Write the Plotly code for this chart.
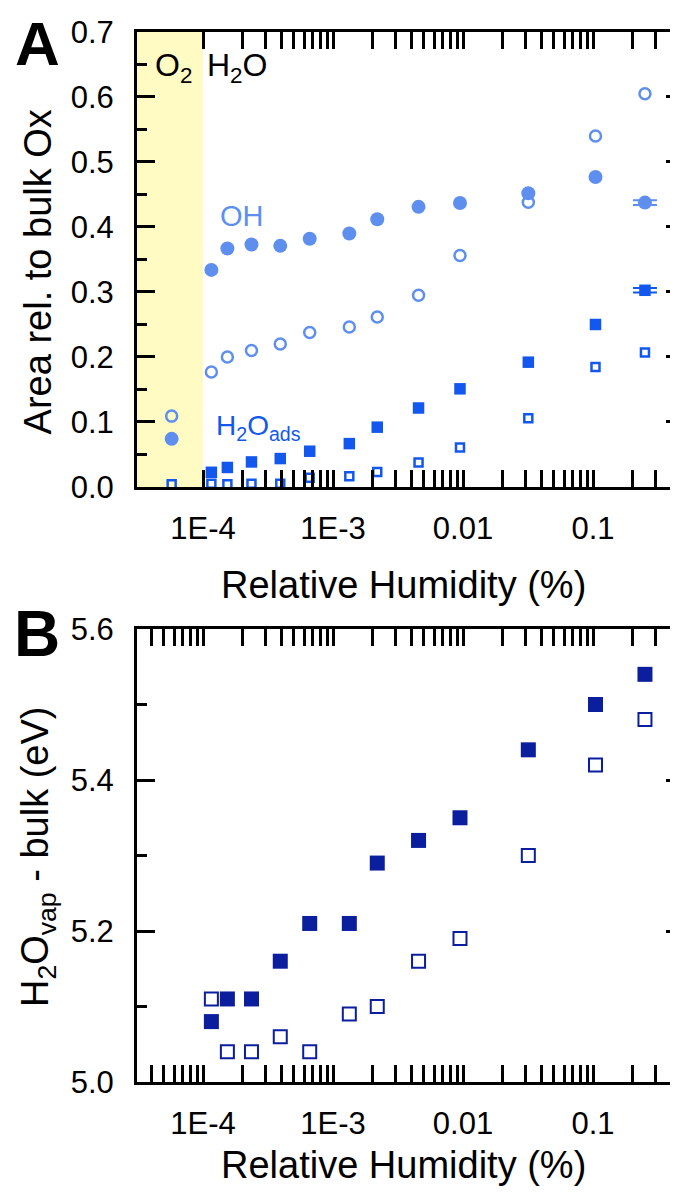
import plotly.graph_objects as go

# ---------------- data ----------------
rh_o2 = [5.74e-5]
rh = [1.16e-4, 1.54e-4, 2.36e-4, 3.93e-4, 6.62e-4, 1.335e-3, 2.19e-3,
      4.55e-3, 9.48e-3, 0.0318, 0.1045, 0.251]

oh_filled_o2 = [0.074]
oh_filled = [0.334, 0.367, 0.373, 0.371, 0.382, 0.390, 0.412, 0.431,
             0.437, 0.452, 0.477, 0.4375]
oh_open_o2 = [0.109]
oh_open = [0.177, 0.200, 0.210, 0.220, 0.2375, 0.246, 0.2615, 0.295,
           0.356, 0.438, 0.540, 0.605]
ads_filled = [0.0226, 0.030, 0.0385, 0.0437, 0.055, 0.0667, 0.092, 0.1215,
              0.151, 0.192, 0.250, 0.3026]
ads_open_o2 = [0.004]
ads_open = [0.005, 0.004, 0.005, 0.005, 0.014, 0.0165, 0.023, 0.0375,
            0.0606, 0.1057, 0.1846, 0.207]
# error bars exist only on the last (highest humidity) point
oh_last_err = [0.0035]
ads_last_err = [0.0035]

vap_filled = [5.08, 5.11, 5.11, 5.16, 5.21, 5.21, 5.29, 5.32, 5.35, 5.44, 5.50, 5.54]
vap_open = [5.11, 5.04, 5.04, 5.06, 5.04, 5.09, 5.10, 5.16, 5.19, 5.30, 5.42, 5.48]

major_vals = [1e-4, 1e-3, 1e-2, 1e-1]
major_text = ["1E-4", "1E-3", "0.01", "0.1"]

# ---------------- style ----------------
FONT = "Liberation Sans, Arial, sans-serif"
C_OH = "#5E8FEF"
C_ADS = "#1258EE"
C_VAP = "#0A1E9E"
XR = [-4.5077, -0.3462]

minor_all = [k * 10 ** e for e in range(-5, 0) for k in range(2, 10)
             if 10 ** XR[0] < k * 10 ** e < 10 ** XR[1]]
minor_a = [v for v in minor_all if v > 1e-4]

fig = go.Figure()

# Panel A
fig.add_trace(go.Scatter(x=rh_o2 + rh, y=oh_open_o2 + oh_open, mode="markers",
                         marker=dict(symbol="circle-open", size=11, color=C_OH,
                                     line=dict(width=2.5, color=C_OH)),
                         xaxis="x", yaxis="y", showlegend=False))
fig.add_trace(go.Scatter(x=rh_o2 + rh[:-1], y=oh_filled_o2 + oh_filled[:-1], mode="markers",
                         marker=dict(symbol="circle", size=14, color=C_OH),
                         xaxis="x", yaxis="y", showlegend=False))
fig.add_trace(go.Scatter(x=rh[-1:], y=oh_filled[-1:], mode="markers",
                         marker=dict(symbol="circle", size=14, color=C_OH),
                         error_y=dict(type="data", array=oh_last_err,
                                      width=12, thickness=2, color=C_OH),
                         xaxis="x", yaxis="y", showlegend=False))
fig.add_trace(go.Scatter(x=rh_o2 + rh, y=ads_open_o2 + ads_open, mode="markers",
                         marker=dict(symbol="square-open", size=8, color=C_ADS,
                                     line=dict(width=2.5, color=C_ADS)),
                         xaxis="x", yaxis="y", showlegend=False))
fig.add_trace(go.Scatter(x=rh[:-1], y=ads_filled[:-1], mode="markers",
                         marker=dict(symbol="square", size=11.5, color=C_ADS),
                         xaxis="x", yaxis="y", showlegend=False))
fig.add_trace(go.Scatter(x=rh[-1:], y=ads_filled[-1:], mode="markers",
                         marker=dict(symbol="square", size=11.5, color=C_ADS),
                         error_y=dict(type="data", array=ads_last_err,
                                      width=12, thickness=2, color=C_ADS),
                         xaxis="x", yaxis="y", showlegend=False))

# Panel B
fig.add_trace(go.Scatter(x=rh, y=vap_open, mode="markers",
                         marker=dict(symbol="square-open", size=13, color=C_VAP,
                                     line=dict(width=2, color=C_VAP)),
                         xaxis="x2", yaxis="y2", showlegend=False))
fig.add_trace(go.Scatter(x=rh, y=vap_filled, mode="markers",
                         marker=dict(symbol="square", size=15, color=C_VAP),
                         xaxis="x2", yaxis="y2", showlegend=False))

# empty traces registering the right-side tick axes
fig.add_trace(go.Scatter(x=[], y=[], xaxis="x", yaxis="y3", showlegend=False))
fig.add_trace(go.Scatter(x=[], y=[], xaxis="x2", yaxis="y4", showlegend=False))

ax_common = dict(showgrid=False, zeroline=False, showline=True, linewidth=3,
                 linecolor="black", ticks="inside", tickwidth=2.5,
                 tickcolor="black", tickfont=dict(family=FONT, size=31, color="black"))

xa = dict(ax_common, type="log", range=XR, mirror="allticks", ticklen=17,
          tickmode="array", tickvals=major_vals, ticktext=major_text,
          ticklabelstandoff=12)
fig.update_layout(
    xaxis=dict(xa, anchor="y", domain=[0, 1],
               minor=dict(tickmode="array", tickvals=minor_a, ticks="inside",
                          ticklen=8, tickwidth=2.5, tickcolor="black")),
    xaxis2=dict(xa, anchor="y2", domain=[0, 1],
                minor=dict(tickmode="array", tickvals=minor_all, ticks="inside",
                           ticklen=8, tickwidth=2.5, tickcolor="black")),
    yaxis=dict(ax_common, range=[0, 0.7], domain=[0.5667, 1], anchor="x",
               dtick=0.1, tick0=0, tickformat=".1f", ticklen=18,
               ticklabelstandoff=14,
               minor=dict(dtick=0.05, ticks="inside", ticklen=10, tickwidth=2.5,
                          tickcolor="black")),
    yaxis2=dict(ax_common, range=[5.0, 5.6], domain=[0, 0.4314], anchor="x2",
                dtick=0.2, tick0=5.0, tickformat=".1f", ticklen=18,
                ticklabelstandoff=14,
                minor=dict(dtick=0.1, ticks="inside", ticklen=10, tickwidth=2.5,
                           tickcolor="black")),
    yaxis3=dict(overlaying="y", side="right", anchor="x", range=[0, 0.7],
                showline=False, showgrid=False, zeroline=False,
                showticklabels=False, ticks="inside", ticklen=12, tickwidth=2.5,
                tickcolor="black", dtick=0.1, tick0=0,
                minor=dict(dtick=0.05, ticks="inside", ticklen=5, tickwidth=2.5,
                           tickcolor="black")),
    yaxis4=dict(overlaying="y2", side="right", anchor="x2", range=[5.0, 5.6],
                showline=False, showgrid=False, zeroline=False,
                showticklabels=False, ticks="inside", ticklen=12, tickwidth=2.5,
                tickcolor="black", dtick=0.2, tick0=5.0,
                minor=dict(dtick=0.1, ticks="inside", ticklen=5, tickwidth=2.5,
                           tickcolor="black")),
)

# O2 band
fig.add_shape(type="rect", xref="x", yref="y", x0=10 ** XR[0], x1=1e-4,
              y0=0, y1=0.7, fillcolor="#FFFBC2", line=dict(width=0), layer="below")

ann = []
def txt(text, x, y, size, color="black", xref="paper", yref="paper",
        xanchor="center", yanchor="middle", angle=0, bold=False):
    ann.append(dict(text=text, x=x, y=y, xref=xref, yref=yref, xanchor=xanchor,
                    yanchor=yanchor, textangle=angle, showarrow=False, borderpad=0,
                    font=dict(family=FONT, size=size, color=color,
                              weight="bold" if bold else "normal")))

txt("A", -0.1848, 1.0225, 62, bold=True, yanchor="top")
txt("B", -0.1848, 0.4265, 64, bold=True)
txt("Area rel. to bulk Ox", -0.183, 0.772, 38, angle=-90)
txt("H<sub>2</sub>O<sub>vap</sub> - bulk (eV)", -0.183, 0.2152, 38, angle=-90)
txt("Relative Humidity (%)", 0.4935, 0.4733, 38)
txt("Relative Humidity (%)", 0.4935, -0.079, 38)
txt("O<sub>2</sub>", -4.38, 0.645, 32, xref="x", yref="y", xanchor="left")
txt("H<sub>2</sub>O", -3.98, 0.645, 32, xref="x", yref="y", xanchor="left")
txt("OH", -3.875, 0.4165, 29, color=C_OH, xref="x", yref="y", xanchor="left")
txt("H<sub>2</sub>O<sub>ads</sub>", -3.91, 0.092, 28, color=C_ADS, xref="x",
    yref="y", xanchor="left")

# page body has an 8px default margin: size the figure so it fills 678x1199
fig.update_layout(annotations=ann, width=670, height=1191,
                  margin=dict(l=129, r=0, t=24, b=117),
                  paper_bgcolor="white", plot_bgcolor="rgba(0,0,0,0)",
                  font=dict(family=FONT, color="black"))

fig.write_html("out.html")
